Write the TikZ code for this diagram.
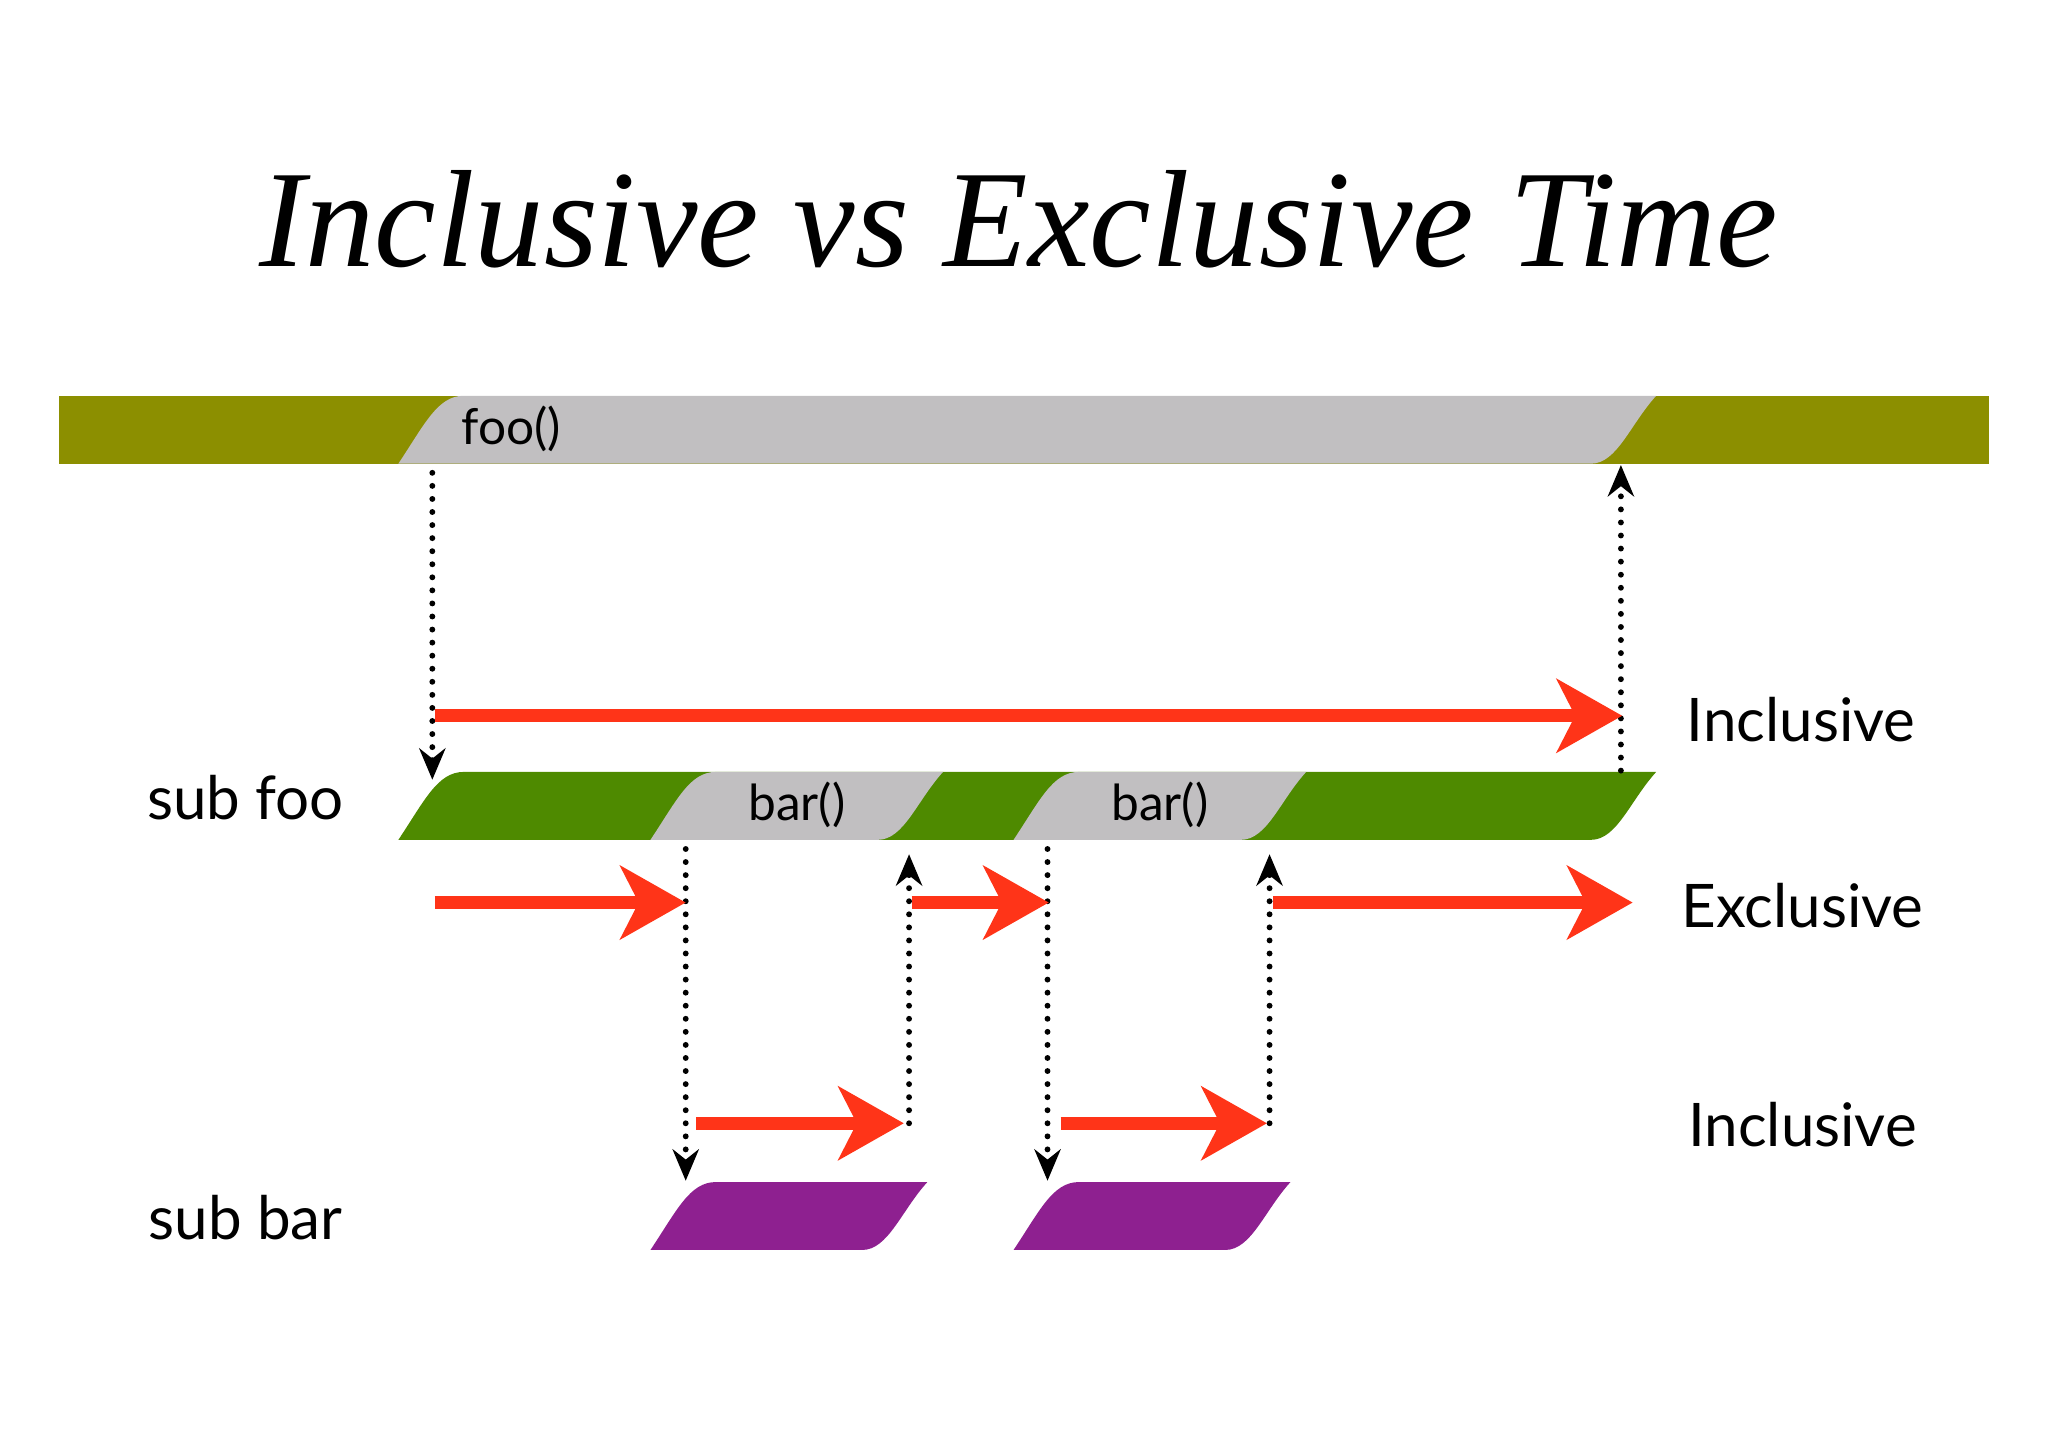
\documentclass[tikz,border=0pt]{standalone}
\usepackage{fontspec}
\setmainfont{Liberation Serif}
\newfontfamily\gill{Lato}
\usetikzlibrary{arrows.meta}
\definecolor{olivebar}{HTML}{8C8F00}
\definecolor{graybar}{HTML}{C1BFC1}
\definecolor{greenbar}{HTML}{4E8A00}
\definecolor{purplebar}{HTML}{8E2090}
\definecolor{redarr}{HTML}{FF3418}
\tikzset{
  lbl/.style={font=\gill\fontsize{46}{50}\selectfont, text=black},
  dotarrow/.style={line width=4.5pt, dash pattern=on 0pt off 10pt, line cap=round, -{Stealth[length=24,width=20]}},
  redarrow/.style={redarr, line width=10pt, -{Stealth[length=50,width=56,inset=14]}},
}
\newcommand{\slab}[5]{% xl, xr, bottom, color, name
  \fill[#4] (#1,#3) .. controls (#1+20,#3-30) and (#1+30,#3-52) .. (#1+50,#3-52)
    -- (#2,#3-52) .. controls (#2-20,#3-30) and (#2-30,#3) .. (#2-50,#3) -- cycle;
  \coordinate (#5) at ({(#1+#2)/2},#3-26);}
\begin{document}
\begin{tikzpicture}[x=1pt,y=-1pt]
\useasboundingbox (0,0) rectangle (1568,1109);
\node (title) at (780,168) {\fontsize{106}{110}\selectfont\itshape Inclusive vs Exclusive Time};
% top bar
\fill[olivebar] (45,303) rectangle (1523,355);
\slab{305}{1268}{355}{graybar}{foo}
\node[lbl, font=\gill\fontsize{38}{42}\selectfont, anchor=west] (foolbl) at (350,328) {foo()};
% sub foo bar
\slab{305}{1268}{643}{greenbar}{subfoo}
\slab{498}{722}{643}{graybar}{bara}
\slab{776}{1000}{643}{graybar}{barb}
\node[lbl, font=\gill\fontsize{38}{42}\selectfont] (baralbl) at (610,616) {bar()};
\node[lbl, font=\gill\fontsize{38}{42}\selectfont] (barblbl) at (888,616) {bar()};
% sub bar
\slab{498}{710}{957}{purplebar}{suba}
\slab{776}{988}{957}{purplebar}{subb}
% labels
\node[lbl] (subfoo) at (188,611) {sub foo};
\node[lbl] (subbar) at (188,932) {sub bar};
\node[lbl] (inc1) at (1379,551) {Inclusive};
\node[lbl] (exc) at (1380,693) {Exclusive};
\node[lbl] (inc2) at (1380,861) {Inclusive};
% coordinates
\coordinate (d1s) at (331,362); \coordinate (d1e) at (331,597);
\coordinate (u1s) at (1241,590); \coordinate (u1e) at (1241,356);
\coordinate (d2s) at (525,650); \coordinate (d2e) at (525,904);
\coordinate (u2s) at (696,860); \coordinate (u2e) at (696,654);
\coordinate (d3s) at (802,650); \coordinate (d3e) at (802,904);
\coordinate (u3s) at (972,860); \coordinate (u3e) at (972,654);
\draw[dotarrow] (d1s) -- (d1e);
\draw[dotarrow] (u1s) -- (u1e);
\draw[dotarrow] (d2s) -- (d2e);
\draw[dotarrow] (u2s) -- (u2e);
\draw[dotarrow] (d3s) -- (d3e);
\draw[dotarrow] (u3s) -- (u3e);
% red arrows
\coordinate (r1s) at (333,548); \coordinate (r1e) at (1242,548);
\coordinate (r2s) at (333,691); \coordinate (r2e) at (525,691);
\coordinate (r3s) at (698,691); \coordinate (r3e) at (803,691);
\coordinate (r4s) at (975,691); \coordinate (r4e) at (1250,691);
\coordinate (r5s) at (533,860); \coordinate (r5e) at (692,860);
\coordinate (r6s) at (812,860); \coordinate (r6e) at (970,860);
\foreach \a in {1,...,6} \draw[redarrow] (r\a s) -- (r\a e);
\end{tikzpicture}
\end{document}
